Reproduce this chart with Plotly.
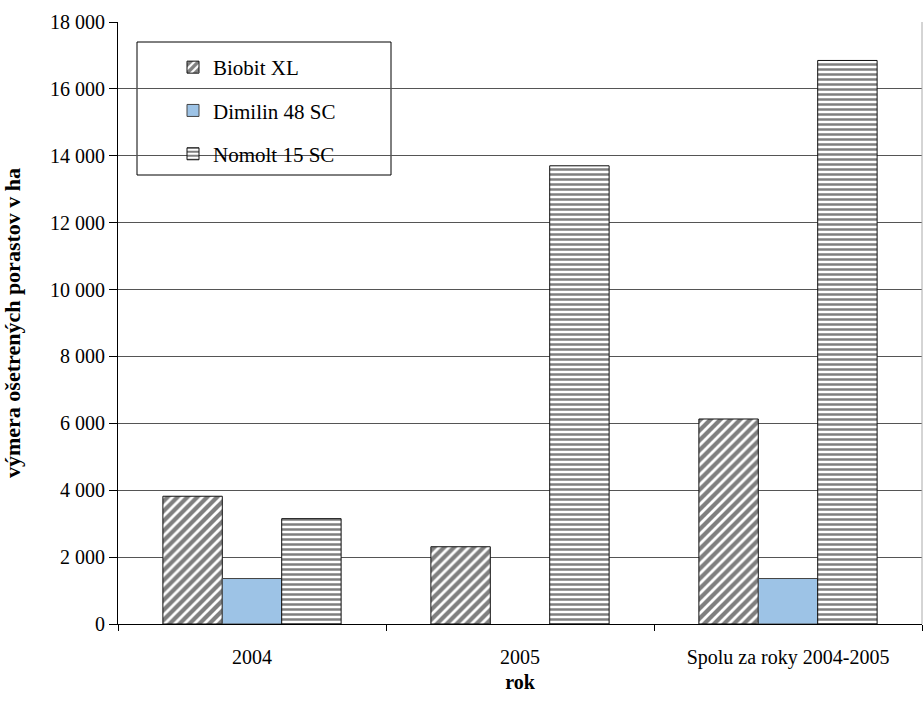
import plotly.graph_objects as go

categories = ["2004", "2005", "Spolu za roky 2004-2005"]
series_names = ["Biobit XL", "Dimilin 48 SC", "Nomolt 15 SC"]
biobit = [3820, 2310, 6130]
dimilin = [1360, None, 1360]
nomolt = [3150, 13700, 16850]
y_ticks = [0, 2000, 4000, 6000, 8000, 10000, 12000, 14000, 16000, 18000]

FONT = "Liberation Serif"

fig = go.Figure()
fig.add_trace(go.Bar(
    name=series_names[0], x=categories, y=biobit, legendgroup="a",
    marker=dict(color="white", line=dict(color="#111", width=1),
                pattern=dict(shape="/", fgcolor="black", bgcolor="white", size=7, solidity=0.6)),
))
fig.add_trace(go.Bar(
    name=series_names[1], x=categories, y=dimilin, legendgroup="b",
    marker=dict(color="#9DC3E6", line=dict(color="#444", width=1)),
))
fig.add_trace(go.Bar(
    name=series_names[2], x=categories, y=nomolt, legendgroup="c",
    marker=dict(color="white", line=dict(color="#111", width=1),
                pattern=dict(shape="-", fgcolor="black", bgcolor="white", size=5, solidity=0.5)),
))

fig.update_layout(
    width=923, height=704,
    margin=dict(l=118, r=1, t=22, b=80),
    paper_bgcolor="white", plot_bgcolor="white",
    barmode="group", bargap=0.335, bargroupgap=0,
    separators=", ",
    font=dict(family=FONT, size=20, color="black"),
    showlegend=True,
    legend=dict(x=(173 - 118) / 804, y=(624 - 47) / 602, xanchor="left", yanchor="top",
                bgcolor="rgba(0,0,0,0)", borderwidth=0,
                font=dict(family=FONT, size=21, color="black"),
                tracegroupgap=13, traceorder="grouped"),
    shapes=[
        dict(type="rect", xref="paper", yref="paper",
             x0=(137 - 118) / 804, x1=(391 - 118) / 804,
             y0=(624 - 175) / 602, y1=(624 - 42) / 602,
             line=dict(color="black", width=1), fillcolor="white", layer="below"),
        dict(type="line", xref="paper", yref="paper", x0=1, x1=1, y0=0, y1=1,
             line=dict(color="#aaa", width=1)),
    ],
)
fig.update_xaxes(
    type="category", showline=True, linecolor="black", linewidth=1,
    ticks="outside", tickson="boundaries", ticklen=6, tickcolor="black",
    tickfont=dict(family=FONT, size=20, color="black"), ticklabelstandoff=15,
    title=dict(text="<b>rok</b>", font=dict(family=FONT, size=20, color="black"), standoff=6),
)
fig.update_yaxes(
    range=[0, 18000], tickvals=y_ticks, tickformat=",d",
    showline=True, linecolor="black", linewidth=1,
    ticks="outside", ticklen=8, tickcolor="black",
    showgrid=True, gridcolor="#555", gridwidth=1,
    tickfont=dict(family=FONT, size=20, color="black"),
    title=dict(text="<b>výmera ošetrených porastov v ha</b>", font=dict(family=FONT, size=22, color="black"), standoff=24),
)

fig.write_html("out.html", config={"displayModeBar": False},
               post_script="document.body.style.margin='0';document.body.style.overflow='hidden';")
